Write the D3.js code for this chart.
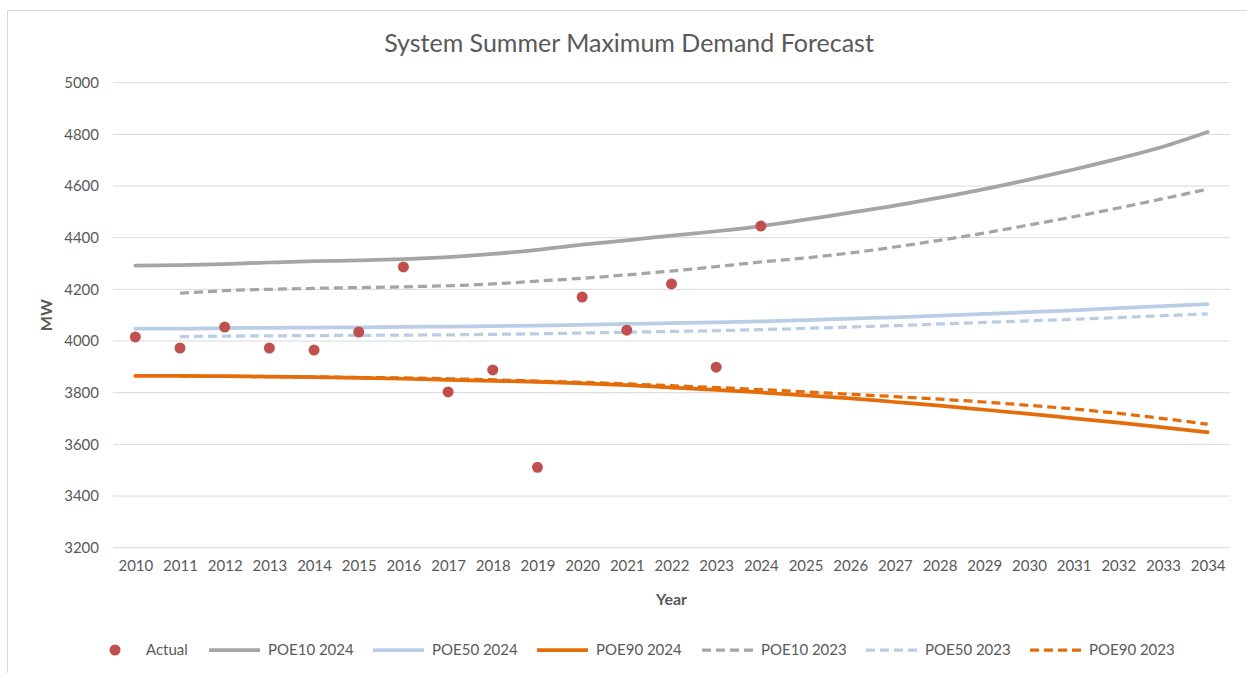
<!DOCTYPE html>
<html>
<head>
<meta charset="utf-8">
<script src="https://cdn.jsdelivr.net/npm/d3@7"></script>
<style>
  body { margin: 0; background: #fff; }
  text { font-family: Lato, "Open Sans", sans-serif; fill: #595959; }
</style>
</head>
<body>
<div id="chart"></div>
<script>
const years = d3.range(2010, 2035);
const yTicks = [3200, 3400, 3600, 3800, 4000, 4200, 4400, 4600, 4800, 5000];

const actualYears = d3.range(2010, 2025);
const actual = [4016, 3973, 4054, 3973, 3965, 4035, 4287, 3803, 3888, 3511, 4170, 4042, 4221, 3899, 4445];

const poe10_2024 = [4292, 4294, 4298, 4304, 4309, 4312, 4317, 4325, 4337, 4353, 4373, 4390, 4408, 4425, 4445, 4470, 4497, 4524, 4555, 4588, 4625, 4664, 4706, 4752, 4809];
const poe50_2024 = [4048, 4048, 4050, 4051, 4052, 4053, 4055, 4056, 4058, 4060, 4063, 4066, 4069, 4072, 4076, 4081, 4087, 4092, 4098, 4105, 4112, 4119, 4127, 4135, 4143];
const poe90_2024 = [3865, 3865, 3864, 3862, 3860, 3857, 3854, 3850, 3846, 3842, 3836, 3829, 3820, 3811, 3801, 3790, 3778, 3764, 3750, 3734, 3718, 3701, 3684, 3666, 3647];

const years2023 = d3.range(2011, 2035);
const poe10_2023 = [4185, 4195, 4200, 4204, 4207, 4210, 4214, 4221, 4232, 4243, 4256, 4271, 4288, 4306, 4322, 4341, 4364, 4390, 4418, 4449, 4481, 4515, 4551, 4588];
const poe50_2023 = [4017, 4019, 4020, 4021, 4022, 4023, 4024, 4026, 4028, 4031, 4034, 4037, 4040, 4044, 4049, 4054, 4060, 4066, 4072, 4078, 4084, 4091, 4098, 4105];
const poe90_2023 = [3864, 3863, 3862, 3861, 3859, 3857, 3854, 3850, 3845, 3840, 3834, 3827, 3820, 3812, 3803, 3794, 3785, 3775, 3764, 3751, 3737, 3720, 3700, 3678];

const W = 1247, H = 673;
const plotLeft = 113, plotRight = 1230, plotTop = 82.7, plotBottom = 547.7;

const svg = d3.select("#chart").append("svg")
  .attr("width", W)
  .attr("height", H);

svg.append("rect")
  .attr("x", 7.5).attr("y", 10.5)
  .attr("width", 1260).attr("height", 700)
  .attr("fill", "#fff")
  .attr("stroke", "#d9d9d9");

const x = d3.scalePoint().domain(years).range([plotLeft, plotRight]).padding(0.5);
const y = d3.scaleLinear().domain([3200, 5000]).range([plotBottom, plotTop]);

// gridlines
svg.append("g")
  .selectAll("line")
  .data(yTicks)
  .join("line")
  .attr("x1", plotLeft).attr("x2", plotRight)
  .attr("y1", d => y(d)).attr("y2", d => y(d))
  .attr("stroke", "#d9d9d9")
  .attr("stroke-width", 1);

// y axis labels
const yAxis = svg.append("g")
  .attr("transform", `translate(${plotLeft - 14},0)`)
  .call(d3.axisLeft(y).tickValues(yTicks).tickSize(0).tickFormat(d3.format("d")));
yAxis.select(".domain").remove();
yAxis.selectAll("text").style("font-size", "15px").attr("fill", "#595959").attr("x", 0);

// x axis labels
const xAxis = svg.append("g")
  .attr("transform", `translate(0,${plotBottom + 10})`)
  .call(d3.axisBottom(x).tickSize(0));
xAxis.select(".domain").remove();
xAxis.selectAll("text").style("font-size", "15px").attr("fill", "#595959");

svg.append("text")
  .attr("x", 629).attr("y", 52)
  .attr("text-anchor", "middle")
  .style("font-size", "25px")
  .text("System Summer Maximum Demand Forecast");

svg.append("text")
  .attr("x", (plotLeft + plotRight) / 2).attr("y", 605)
  .attr("text-anchor", "middle")
  .style("font-size", "16px")
  .style("font-weight", "bold")
  .text("Year");

svg.append("text")
  .attr("transform", `translate(52,${(plotTop + plotBottom) / 2}) rotate(-90)`)
  .attr("text-anchor", "middle")
  .style("font-size", "16px")
  .style("font-weight", "bold")
  .text("MW");

const series = [
  { name: "POE10 2024", xs: years, vals: poe10_2024, color: "#a5a5a5", dash: null },
  { name: "POE50 2024", xs: years, vals: poe50_2024, color: "#b9cde6", dash: null },
  { name: "POE90 2024", xs: years, vals: poe90_2024, color: "#e46c0a", dash: null },
  { name: "POE10 2023", xs: years2023, vals: poe10_2023, color: "#a5a5a5", dash: "9,5" },
  { name: "POE50 2023", xs: years2023, vals: poe50_2023, color: "#b9cde6", dash: "9,5" },
  { name: "POE90 2023", xs: years2023, vals: poe90_2023, color: "#e46c0a", dash: "9,5" }
];

const line = d3.line()
  .x(d => x(d[0]))
  .y(d => y(d[1]))
  .curve(d3.curveMonotoneX);

series.forEach(s => {
  svg.append("path")
    .datum(s.xs.map((yr, i) => [yr, s.vals[i]]))
    .attr("d", line)
    .attr("fill", "none")
    .attr("stroke", s.color)
    .attr("stroke-width", s.dash ? 3.25 : 3.75)
    .attr("stroke-linecap", s.dash ? "butt" : "round")
    .attr("stroke-dasharray", s.dash);
});

svg.append("g")
  .selectAll("circle")
  .data(actualYears.map((yr, i) => [yr, actual[i]]))
  .join("circle")
  .attr("cx", d => x(d[0]))
  .attr("cy", d => y(d[1]))
  .attr("r", 5.5)
  .attr("fill", "#c0504d");

// legend
const legendY = 650;
const lg = svg.append("g");
lg.append("circle").attr("cx", 115).attr("cy", legendY).attr("r", 5.5).attr("fill", "#c0504d");
lg.append("text").attr("x", 146).attr("y", legendY + 5).style("font-size", "15px").text("Actual");

const legendX = [209, 373, 537, 702, 866, 1030];
series.forEach((s, i) => {
  const lx = legendX[i];
  lg.append("line")
    .attr("x1", lx).attr("x2", lx + 51)
    .attr("y1", legendY).attr("y2", legendY)
    .attr("stroke", s.color)
    .attr("stroke-width", s.dash ? 3.25 : 3.75)
    .attr("stroke-dasharray", s.dash);
  lg.append("text")
    .attr("x", lx + 59).attr("y", legendY + 5)
    .style("font-size", "15px")
    .text(s.name);
});
</script>
</body>
</html>
